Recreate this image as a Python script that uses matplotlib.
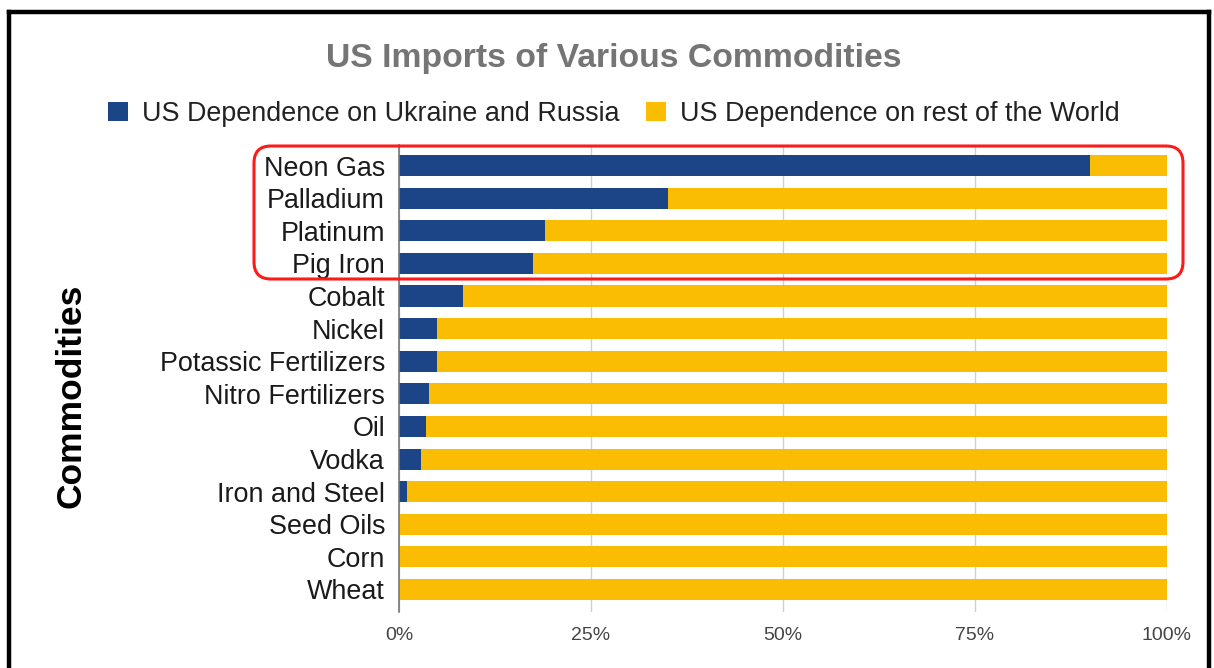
import matplotlib
matplotlib.use("Agg")
import matplotlib.pyplot as plt
from matplotlib.patches import FancyBboxPatch
from matplotlib.lines import Line2D
from matplotlib.transforms import IdentityTransform
from matplotlib.ticker import PercentFormatter

plt.rcParams['font.family'] = ['Liberation Sans', 'DejaVu Sans']

# Commodities, top to bottom
commodities = ["Neon Gas", "Palladium", "Platinum", "Pig Iron", "Cobalt", "Nickel",
               "Potassic Fertilizers", "Nitro Fertilizers", "Oil", "Vodka",
               "Iron and Steel", "Seed Oils", "Corn", "Wheat"]
# Share of US imports sourced from Ukraine and Russia (%)
ukraine_russia = [90, 35, 19, 17.4, 8.3, 5.0, 5.0, 3.9, 3.5, 2.8, 1.0, 0, 0, 0]
# Share sourced from the rest of the world (%)
rest_of_world = [100 - v for v in ukraine_russia]

x_ticks = [0, 25, 50, 75, 100]

BLUE = "#1c4587"
YELLOW = "#fbbc04"

W, H = 1214, 668
fig = plt.figure(figsize=(W / 100, H / 100), dpi=100)
ax = fig.add_axes([399 / W, 1 - 612 / H, (1167 - 399) / W, (612 - 145) / H])

ypos = list(range(len(commodities)))
bh = 0.645
ax.barh(ypos, ukraine_russia, height=bh, color=BLUE, linewidth=0,
        label="US Dependence on Ukraine and Russia", zorder=3)
ax.barh(ypos, rest_of_world, left=ukraine_russia, height=bh, color=YELLOW,
        linewidth=0, label="US Dependence on rest of the World", zorder=3)

ax.set_xlim(0, 100)
ax.set_ylim(13.69, -0.63)
ax.set_xticks(x_ticks)
ax.xaxis.set_major_formatter(PercentFormatter(decimals=0))
ax.set_yticks(ypos)
ax.set_yticklabels(commodities)
ax.tick_params(axis='y', length=0, pad=10, labelsize=19.4, labelcolor="#1a1a1a")
ax.tick_params(axis='x', length=0, pad=11, labelsize=14, labelcolor="#444444")
for t in ax.get_xticklabels():
    t.set_horizontalalignment('center')

ax.grid(axis='x', color="#d0d0d0", linewidth=1, zorder=0)
for s in ["top", "right", "bottom"]:
    ax.spines[s].set_visible(False)
ax.spines["left"].set_color("#777777")
ax.spines["left"].set_linewidth(1.2)
ax.spines["left"].set_zorder(4)

fig.text(614 / W, 1 - 58 / H, "US Imports of Various Commodities", ha="center",
         va="center", fontsize=24.3, fontweight="bold", color="#757575")
fig.text(71 / W, 1 - 396 / H, "Commodities", rotation=90, ha="center",
         va="center", fontsize=25.5, fontweight="bold", color="black")

fig.legend(loc="center", bbox_to_anchor=(614 / W, 1 - 114 / H), ncol=2,
           frameon=False, fontsize=19.4, handlelength=0.74, handleheight=0.74,
           handletextpad=0.52, columnspacing=0.96, labelcolor="#222222")

# highlight box around the top four rows
fig.add_artist(FancyBboxPatch((254, H - 279), 929, 133,
                              boxstyle="round,pad=0,rounding_size=17",
                              transform=IdentityTransform(), fill=False,
                              edgecolor="#ff1a1a", linewidth=2.2, zorder=10))

# outer black frame (open at the bottom)
frame_kw = dict(color="black", linewidth=3.2, transform=IdentityTransform(),
                solid_capstyle="projecting")
fig.add_artist(Line2D([9, 9], [H - 12, -5], **frame_kw))
fig.add_artist(Line2D([9, 1209], [H - 12, H - 12], **frame_kw))
fig.add_artist(Line2D([1209, 1209], [H - 12, -5], **frame_kw))

fig.savefig("out.png", dpi=100)
